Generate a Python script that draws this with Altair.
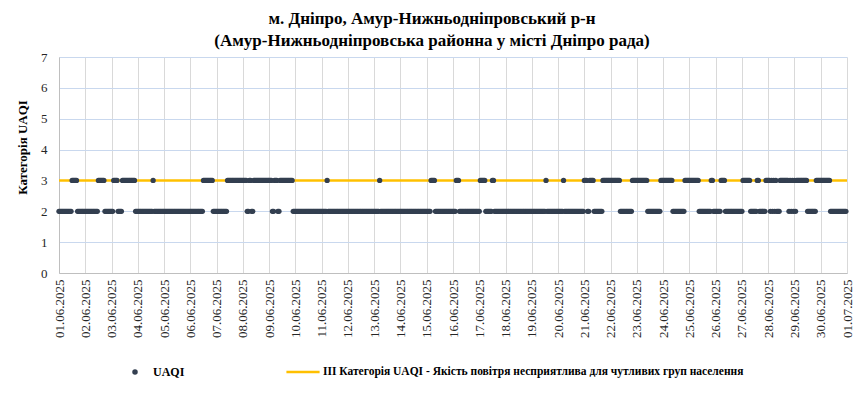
import altair as alt
import pandas as pd

# UAQI category per hour, one string per day (01.06.2025 ... 30.06.2025), 24 hourly values each
day_values = [
    "222222222222333332222222",  # 01.06
    "222222222222333333222222",  # 02.06
    "223333222233333333333322",  # 03.06
    "222222222222223222222222",  # 04.06
    "222222222222222222222222",  # 05.06
    "222222222222333333333222",  # 06.06
    "222222222233333333333333",  # 07.06
    "333322332233333333333333",  # 08.06
    "333223332233333333333322",  # 09.06
    "222222222222222222222222",  # 10.06
    "222223222222222222222222",  # 11.06
    "222222222222222222222222",  # 12.06
    "222223222222222222222222",  # 13.06
    "222222222222222222222222",  # 14.06
    "222233332222222222222222",  # 15.06
    "222333222222222222222222",  # 16.06
    "233333222222332222222222",  # 17.06
    "222222222222222222222222",  # 18.06
    "222222222222232222222222",  # 19.06
    "222223222222222222222222",  # 20.06
    "333223333222222223333333",  # 21.06
    "333333333222222222223333",  # 22.06
    "333333333322222222222233",  # 23.06
    "333333333222222222223333",  # 24.06
    "333333333222222222223322",  # 25.06
    "222223333222222222222222",  # 26.06
    "233333332222223322222233",  # 27.06
    "332323232223333333323232",  # 28.06
    "323333333333222222223333",  # 29.06
    "333333333222222222222222",  # 30.06
]

threshold_value = [3]
series_name = "UAQI"
threshold_name = "ІІІ Категорія  UAQI  - Якість повітря несприятлива  для чутливих  груп  населення"
title_lines = [
    "м. Дніпро, Амур-Нижньодніпровський р-н",
    "(Амур-Нижньодніпровська районна у місті Дніпро рада)",
]
y_title = "Категорія UAQI"

values = [int(c) for d in day_values for c in d]
times = pd.date_range("2025-06-01 00:00", periods=len(values), freq="h")
df = pd.DataFrame({"time": times, "value": values, "s": series_name})
df_thr = pd.DataFrame({"y": threshold_value, "s": threshold_name})

FONT = "Liberation Serif"

x_enc = alt.X(
    "time:T",
    scale=alt.Scale(
        domain=[alt.DateTime(year=2025, month=6, date=1), alt.DateTime(year=2025, month=7, date=1)],
        nice=False,
    ),
    axis=alt.Axis(
        title=None,
        format="%d.%m.%Y",
        tickCount={"interval": "day", "step": 1},
        labelAngle=270,
        labelFont=FONT,
        labelFontSize=13,
        labelColor="#262626",
        labelPadding=6,
        labelOverlap=False,
        labelFlush=False,
        ticks=False,
        grid=True,
        gridColor="#d9d9d9",
        domainColor="#bfbfbf",
    ),
)

y_scale = alt.Scale(domain=[0, 7], nice=False)
y_axis = alt.Axis(
    title=y_title,
    titleFont=FONT,
    titleFontSize=13,
    titleFontWeight="bold",
    titleColor="#000000",
    titleX=-37,
    titleY=90,
    titleAngle=270,
    titleAlign="center",
    titleBaseline="middle",
    values=[0, 1, 2, 3, 4, 5, 6, 7],
    labelFont=FONT,
    labelFontSize=13,
    labelColor="#262626",
    labelPadding=12,
    ticks=False,
    grid=True,
    gridColor="#c9d8ee",
    domainColor="#bfbfbf",
)

rule = alt.Chart(df_thr).mark_rule(strokeWidth=2.6).encode(
    y=alt.Y("y:Q", scale=y_scale, axis=y_axis),
    stroke=alt.Stroke(
        "s:N",
        scale=alt.Scale(range=["#ffc000"]),
        legend=alt.Legend(
            title=None,
            orient="none",
            legendX=226,
            legendY=297,
            symbolType="stroke",
            symbolSize=1100,
            symbolStrokeWidth=2.6,
            labelFont=FONT,
            labelFontSize=11.5,
            labelFontWeight="bold",
            labelColor="#000000",
            labelOffset=2,
            labelLimit=0,
        ),
    ),
)

points = alt.Chart(df).mark_circle(size=28, opacity=1).encode(
    x=x_enc,
    y=alt.Y("value:Q", scale=y_scale, axis=y_axis),
    color=alt.Color(
        "s:N",
        scale=alt.Scale(range=["#333f50"]),
        legend=alt.Legend(
            title=None,
            orient="none",
            legendX=70,
            legendY=309,
            symbolType="circle",
            symbolSize=30,
            labelFont=FONT,
            labelFontSize=12,
            labelFontWeight="bold",
            labelColor="#000000",
            labelOffset=12,
            labelLimit=0,
        ),
    ),
)

chart = (
    alt.layer(rule, points)
    .properties(
        width=788,
        height=216,
        padding={"left": 51, "top": 49, "right": 10, "bottom": 105},
        autosize=alt.AutoSizeParams(type="none"),
        title=alt.TitleParams(
            text=title_lines,
            font=FONT,
            fontSize=17,
            fontWeight="bold",
            color="#000000",
            anchor="middle",
            lineHeight=22,
            offset=1,
            dx=-21,
        ),
    )
    .resolve_scale(color="independent", stroke="independent")
    .configure_axis(labelFont=FONT, titleFont=FONT)
    .configure_legend(labelFont=FONT)
    .configure_view(stroke=None)
)

chart.save("out.html", embed_options={"renderer": "svg", "actions": False})
